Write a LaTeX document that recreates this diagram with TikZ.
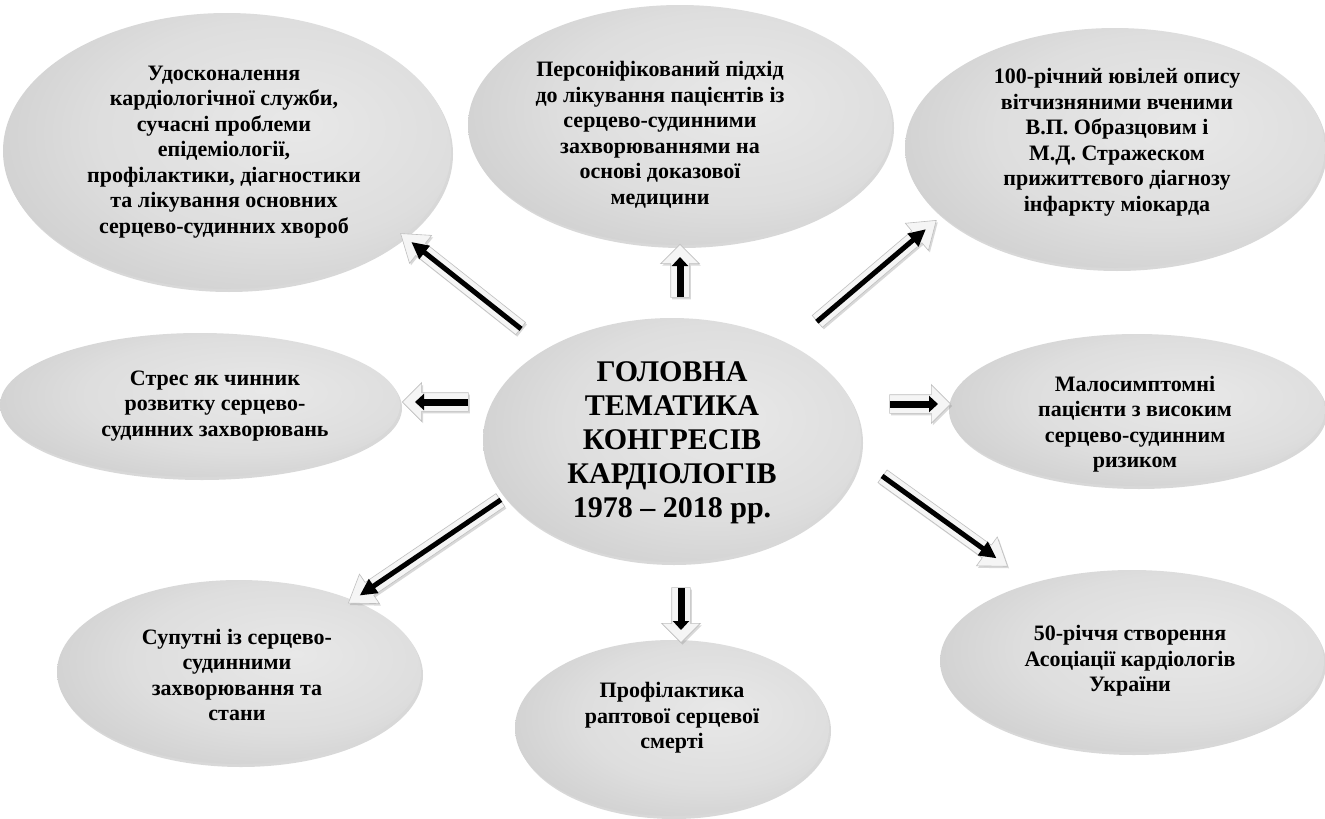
\documentclass[tikz,border=0pt]{standalone}
\usepackage{fontspec}
\setmainfont{Liberation Serif}
\usetikzlibrary{shapes.geometric,shapes.arrows,shadows,calc,arrows.meta}
\pgfdeclareradialshading{ellshade}{\pgfpoint{8bp}{5bp}}{%
  color(0bp)=(black!9); color(20bp)=(black!13); color(40bp)=(black!22);
  color(52bp)=(black!30); color(70bp)=(black!36)}
\tikzset{
  bubble/.style={ellipse, shading=ellshade, draw=none, inner sep=0pt,
    drop shadow={opacity=0.3, shadow xshift=2pt, shadow yshift=-3pt}},
  txt/.style={align=center, font=\fontsize{22}{25.5}\selectfont\bfseries},
  bigtxt/.style={align=center, font=\fontsize{30}{34}\selectfont\bfseries},
  barrow/.style={single arrow, draw=black!25, fill=black!4, line width=0.6pt,
    inner sep=7.5pt, minimum width=0pt, single arrow head extend=10pt,
    single arrow tip angle=70, single arrow head indent=0pt,
    drop shadow={opacity=0.3, shadow xshift=1.5pt, shadow yshift=-2pt}},
  sarrow/.style={barrow, inner sep=9pt, single arrow head extend=10pt, single arrow tip angle=90},
  inarrow/.style={line width=5pt, black, -{Triangle[length=17pt,width=16pt]},
    shorten <=5pt, shorten >=8pt},
  sinarrow/.style={line width=7pt, black, -{Triangle[length=9pt,width=16pt]},
    shorten <=5pt, shorten >=8pt}
}
\newcommand{\blockarr}[4]{%
  \path let \p1=(#1), \p2=(#2), \n1={atan2(\y2-\y1,\x2-\x1)},
    \n2={veclen(\x2-\x1,\y2-\y1)} in
    node[#3, minimum height=\n2, rotate=\n1] at ($(#1)!0.5!(#2)$) {};
  \draw[#4] (#1) -- (#2);
}
\begin{document}
\begin{tikzpicture}[x=1pt,y=-1pt]
\useasboundingbox (0,0) rectangle (1325,819);
\fill[white] (0,0) rectangle (1325,819);
% ellipses
\node[bubble, minimum width=448pt, minimum height=276pt] (e1) at (227,151) {};
\node[bubble, minimum width=424pt, minimum height=240pt] (e2) at (680,125) {};
\node[bubble, minimum width=420pt, minimum height=240pt] (e3) at (1115,148) {};
\node[bubble, minimum width=400pt, minimum height=144pt] (e4) at (200,405) {};
\node[bubble, minimum width=378pt, minimum height=244pt] (e5) at (672,440) {};
\node[bubble, minimum width=376pt, minimum height=152pt] (e6) at (1137,410) {};
\node[bubble, minimum width=364pt, minimum height=184pt] (e7) at (239,672) {};
\node[bubble, minimum width=314pt, minimum height=176pt] (e8) at (672,728) {};
\node[bubble, minimum width=384pt, minimum height=182pt] (e9) at (1132,661) {};
% texts
\node[txt] (t1) at (224,152) {Удосконалення\\кардіологічної служби,\\сучасні проблеми\\епідеміології,\\профілактики, діагностики\\та лікування основних\\серцево-судинних хвороб};
\node[txt] (t2) at (660,135) {Персоніфікований підхід\\до лікування пацієнтів із\\серцево-судинними\\захворюваннями на\\основі доказової\\медицини};
\node[txt] (t3) at (1117,142) {100-річний ювілей опису\\вітчизняними вченими\\В.П. Образцовим і\\М.Д. Стражеском\\прижиттєвого діагнозу\\інфаркту міокарда};
\node[txt] (t4) at (215,406) {Стрес як чинник\\розвитку серцево-\\судинних захворювань};
\node[bigtxt] (t5) at (672,443) {ГОЛОВНА\\ТЕМАТИКА\\КОНГРЕСІВ\\КАРДІОЛОГІВ\\1978 – 2018 рр.};
\node[txt] (t6) at (1135,424) {Малосимптомні\\пацієнти з високим\\серцево-судинним\\ризиком};
\node[txt] (t7) at (237,675) {Супутні із серцево-\\судинними\\захворювання та\\стани};
\node[txt] (t8) at (672,718) {Профілактика\\раптової серцевої\\смерті};
\node[txt] (t9) at (1130,661) {50-річчя створення\\Асоціації кардіологів\\України};
% arrows
\coordinate (a1s) at (525,332); \coordinate (a1e) at (405,237);
\coordinate (a2s) at (680,302); \coordinate (a2e) at (680,249);
\coordinate (a3s) at (813,325); \coordinate (a3e) at (932,224);
\coordinate (a4s) at (473,402); \coordinate (a4e) at (407,402);
\coordinate (a5s) at (885,404); \coordinate (a5e) at (946,404);
\coordinate (a6s) at (505,497); \coordinate (a6e) at (353,600);
\coordinate (a7s) at (681,583); \coordinate (a7e) at (681,638);
\coordinate (a8s) at (878,473); \coordinate (a8e) at (1003,563);
\blockarr{a1s}{a1e}{barrow}{inarrow}
\blockarr{a2s}{a2e}{sarrow}{sinarrow}
\blockarr{a3s}{a3e}{barrow}{inarrow}
\blockarr{a4s}{a4e}{sarrow}{sinarrow}
\blockarr{a5s}{a5e}{sarrow}{sinarrow}
\blockarr{a6s}{a6e}{barrow}{inarrow}
\blockarr{a7s}{a7e}{sarrow}{sinarrow}
\blockarr{a8s}{a8e}{barrow}{inarrow}
\end{tikzpicture}
\end{document}
